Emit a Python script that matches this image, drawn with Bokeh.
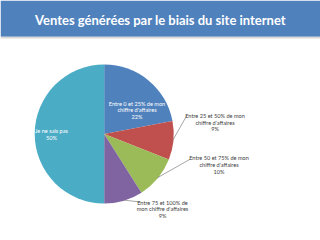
import math
from bokeh.plotting import figure
from bokeh.models import Range1d, ColumnDataSource
from bokeh.core.properties import value
from bokeh.embed import file_html
from bokeh.resources import INLINE

title = "Ventes générées par le biais du site internet"
categories = [
    "Entre 0 et 25% de mon chiffre d'affaires",
    "Entre 25 et 50% de mon chiffre d'affaires",
    "Entre 50 et 75% de mon chiffre d'affaires",
    "Entre 75 et 100% de mon chiffre d'affaires",
    "Je ne sais pas",
]
values = [22, 9, 10, 9, 50]
label_lines = [
    ["Entre 0 et 25% de mon", "chiffre d'affaires", "22%"],
    ["Entre 25 et 50% de mon", "chiffre d'affaires", "9%"],
    ["Entre 50 et 75% de mon", "chiffre d'affaires", "10%"],
    ["Entre 75 et 100% de", "mon chiffre d'affaires", "9%"],
    ["Je ne sais pas", "50%"],
]
colors = ["#4F81BD", "#C0504D", "#9BBB59", "#8064A2", "#4BACC6"]

# layout (pixel coords, y measured from top)
W, H = 320, 240
CX, CY, R = 103.7, 133.5, 69.5
label_pos = [(136.5, 102.5), (214.5, 115), (218.5, 157.3), (162, 201.5), (51, 130.3)]
label_color = ["white", "#404040", "#404040", "#404040", "white"]
leader_end = [None, (186, 115.5), (190, 158.5), (140, 201.5), None]
LINE_H = 6.6

p = figure(width=W, height=H, output_backend="svg", toolbar_location=None,
           x_range=Range1d(0, W), y_range=Range1d(0, H), min_border=0)
p.axis.visible = False
p.grid.visible = False
p.outline_line_color = None
p.background_fill_color = "white"
p.border_fill_color = "white"

def Y(y):
    return H - y

# title bar
p.quad(left=[0], right=[W], bottom=[Y(38)], top=[Y(35.5)], color="#D9D9D9", line_color=None)
p.quad(left=[0], right=[W], bottom=[Y(36)], top=[H], color="#4F81BD", line_color=None)
p.text(x=[W / 2], y=[Y(19.5)], text=[title], text_color="white",
       text_font=value("Lato"), text_font_style="bold", text_font_size="13px",
       text_align="center", text_baseline="middle")

# pie
total = float(sum(values))
cum = 0.0
starts, ends, mids = [], [], []
for v in values:
    a0 = math.pi / 2 - 2 * math.pi * cum / total
    cum += v
    a1 = math.pi / 2 - 2 * math.pi * cum / total
    starts.append(a0)
    ends.append(a1)
    mids.append((a0 + a1) / 2)
src = ColumnDataSource(dict(x=[CX] * len(values), y=[Y(CY)] * len(values),
                            start=starts, end=ends, color=colors))
p.wedge(x="x", y="y", radius=R, start_angle="start", end_angle="end",
        direction="clock", fill_color="color", line_color=None, source=src)

# leaders and labels
for i, lines in enumerate(label_lines):
    if leader_end[i] is not None:
        ex = CX + R * math.cos(mids[i]) * 0.99
        ey = Y(CY) + R * math.sin(mids[i]) * 0.99
        p.line(x=[ex, leader_end[i][0]], y=[ey, Y(leader_end[i][1])],
               line_color="#7F7F7F", line_width=0.7)
    lx, ly = label_pos[i]
    p.text(x=[lx] * len(lines), y=[Y(ly + k * LINE_H) for k in range(len(lines))],
           text=lines, text_color=label_color[i], text_font=value("Lato"),
           text_font_size="5.6px", text_align="center", text_baseline="middle")

open("out.html", "w").write(file_html(p, INLINE))
